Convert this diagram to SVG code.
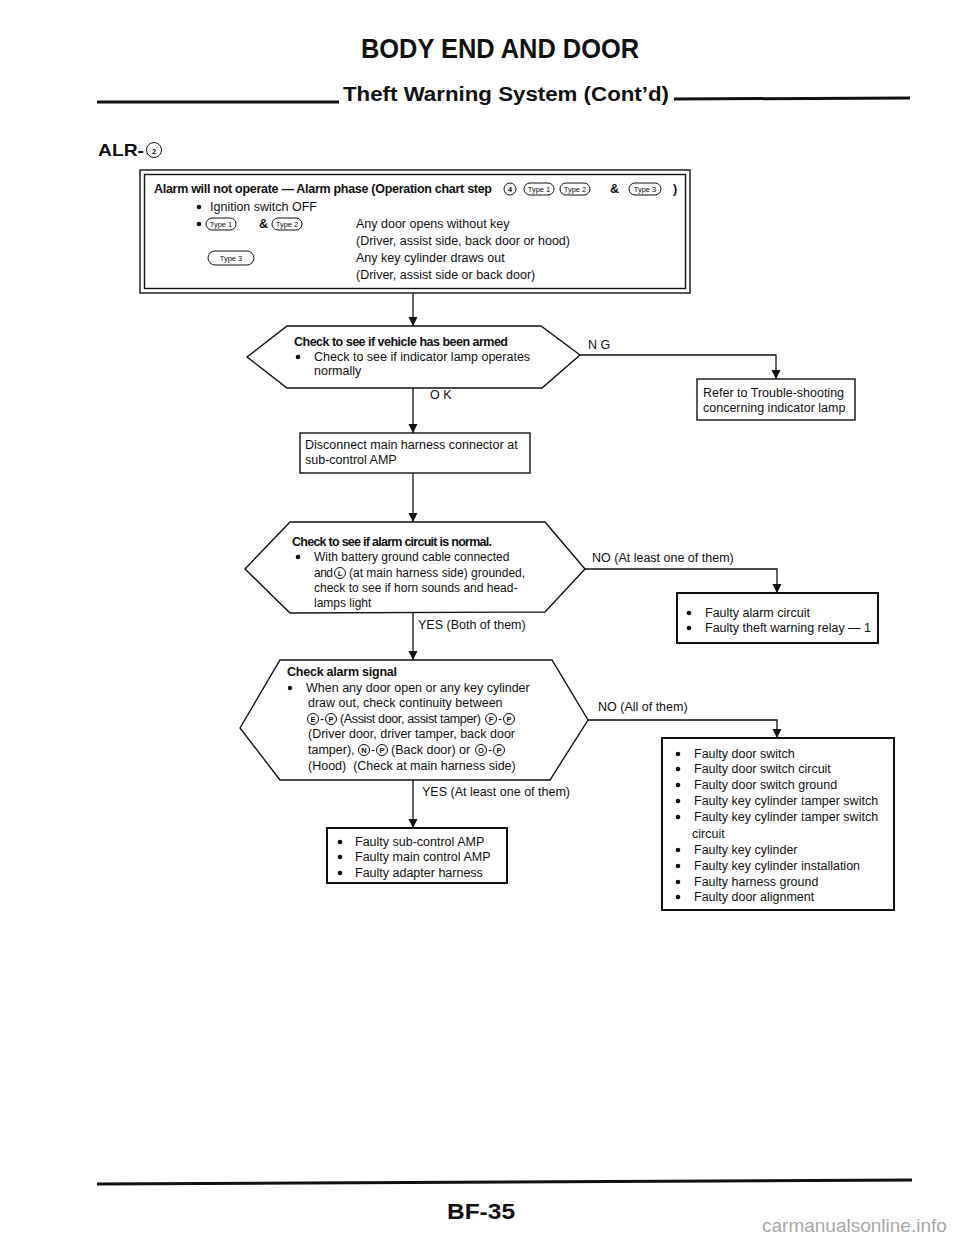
<svg xmlns="http://www.w3.org/2000/svg" width="960" height="1245" viewBox="0 0 960 1245">
<defs>
<marker id="arr" markerUnits="userSpaceOnUse" markerWidth="9" markerHeight="10" refX="9" refY="4.5" orient="auto">
<path d="M0,0 L9,4.5 L0,9 z" fill="#111"/>
</marker>
<style>
.t{font-family:"Liberation Sans",Arial,sans-serif;font-size:12.5px;fill:#111}
.s{font-size:12px}
.b{font-weight:bold}
.h{font-family:"Liberation Sans",Arial,sans-serif;font-weight:bold;fill:#111}
.box{fill:#fff;stroke:#111;stroke-width:1.4}
.thick{stroke-width:2}
.rule{stroke:#111;stroke-width:3;fill:none}
.conn path{fill:none;stroke:#111;stroke-width:1.3;marker-end:url(#arr)}
.bd rect{fill:none;stroke:#111;stroke-width:1}
.bd text{font-family:"Liberation Sans",Arial,sans-serif;font-size:7.5px;fill:#111;text-anchor:middle}
.cl circle{fill:none;stroke:#111;stroke-width:1}
.cl text{font-family:"Liberation Sans",Arial,sans-serif;font-size:7.5px;font-weight:bold;fill:#111;text-anchor:middle}
.dot{fill:#111}
</style>
</defs>
<rect width="960" height="1245" fill="#fff"/>

<g id="header">
<text class="h" x="500" y="58" font-size="28" text-anchor="middle" textLength="278" lengthAdjust="spacingAndGlyphs">BODY END AND DOOR</text>
<line class="rule" x1="97" y1="102" x2="339" y2="102"/>
<text class="h" x="343" y="101" font-size="20" textLength="326" lengthAdjust="spacingAndGlyphs">Theft Warning System (Cont’d)</text>
<line class="rule" x1="674" y1="99" x2="910" y2="98"/>
<text class="h" x="98" y="156" font-size="17" textLength="46" lengthAdjust="spacingAndGlyphs">ALR-</text>
<g class="cl"><circle cx="154" cy="150" r="7.5"/><text x="154" y="154" font-size="11" font-weight="normal">2</text></g>
</g>

<g id="start">
<rect class="box" x="140" y="170" width="550" height="123"/>
<rect class="box" x="144.5" y="174.5" width="541" height="114" fill="none"/>
<text class="t b" x="154" y="193" font-size="12" textLength="338">Alarm will not operate — Alarm phase (Operation chart step</text>
<g class="cl"><circle cx="510" cy="189" r="6"/><text x="510" y="192">4</text></g>
<g class="bd"><rect x="524" y="183" width="30" height="12" rx="6"/><text x="539" y="192">Type 1</text></g>
<g class="bd"><rect x="560" y="183" width="30" height="12" rx="6"/><text x="575" y="192">Type 2</text></g>
<text class="t b" x="610" y="193">&amp;</text>
<g class="bd"><rect x="629" y="183" width="32" height="12" rx="6"/><text x="645" y="192">Type 3</text></g>
<text class="t b" x="673" y="193">)</text>
<circle class="dot" cx="199" cy="207" r="2.3"/>
<text class="t" x="210" y="211">Ignition switch OFF</text>
<circle class="dot" cx="199" cy="224" r="2.3"/>
<g class="bd"><rect x="206" y="218" width="30" height="12" rx="6"/><text x="221" y="227">Type 1</text></g>
<text class="t b" x="259" y="228">&amp;</text>
<g class="bd"><rect x="272" y="218" width="30" height="12" rx="6"/><text x="287" y="227">Type 2</text></g>
<text class="t" x="356" y="228">Any door opens without key</text>
<text class="t" x="356" y="245">(Driver, assist side, back door or hood)</text>
<g class="bd"><rect x="208" y="251" width="46" height="14" rx="7"/><text x="231" y="261" font-size="8.5">Type 3</text></g>
<text class="t" x="356" y="262">Any key cylinder draws out</text>
<text class="t" x="356" y="279">(Driver, assist side or back door)</text>
</g>

<g id="check-armed">
<polygon class="box" points="247,357 287,326 541,326 580,355 542,388 287,388"/>
<text class="t b" x="294" y="346" textLength="214">Check to see if vehicle has been armed</text>
<circle class="dot" cx="298" cy="357" r="2.3"/>
<text class="t" x="314" y="361">Check to see if indicator lamp operates</text>
<text class="t" x="314" y="375">normally</text>
</g>

<g id="refer-lamp">
<rect class="box" x="697" y="379" width="158" height="41"/>
<text class="t" x="703" y="397">Refer to Trouble-shooting</text>
<text class="t" x="703" y="412">concerning indicator lamp</text>
</g>

<g id="disconnect">
<rect class="box" x="300" y="433" width="230" height="40"/>
<text class="t" x="305" y="449">Disconnect main harness connector at</text>
<text class="t" x="305" y="464">sub-control AMP</text>
</g>

<g id="check-circuit">
<polygon class="box" points="245,569 290,522 545,522 585,569 545,612 290,613"/>
<text class="t b" x="292" y="546" textLength="200">Check to see if alarm circuit is normal.</text>
<circle class="dot" cx="298" cy="557" r="2.3"/>
<text class="t s" x="314" y="561">With battery ground cable connected</text>
<text class="t s" x="314" y="577" textLength="19">and</text>
<g class="cl"><circle cx="340" cy="573" r="5.5"/><text x="340" y="576">L</text></g>
<text class="t s" x="349" y="577">(at main harness side) grounded,</text>
<text class="t s" x="314" y="592">check to see if horn sounds and head-</text>
<text class="t s" x="314" y="607">lamps light</text>
</g>

<g id="fault-alarm">
<rect class="box thick" x="677" y="593" width="201" height="50"/>
<circle class="dot" cx="689" cy="613" r="2.3"/>
<text class="t" x="705" y="617">Faulty alarm circuit</text>
<circle class="dot" cx="689" cy="628" r="2.3"/>
<text class="t" x="705" y="632">Faulty theft warning relay — 1</text>
</g>

<g id="check-signal">
<polygon class="box" points="240,728 280,660 552,660 588,720 550,780 280,780"/>
<text class="t b" x="287" y="676" textLength="110">Check alarm signal</text>
<circle class="dot" cx="290" cy="688" r="2.3"/>
<text class="t" x="306" y="692">When any door open or any key cylinder</text>
<text class="t" x="308" y="707">draw out, check continuity between</text>
<g class="cl"><circle cx="313" cy="719" r="5.5"/><text x="313" y="722">E</text></g>
<text class="t" x="320" y="723">-</text>
<g class="cl"><circle cx="331" cy="719" r="5.5"/><text x="331" y="722">P</text></g>
<text class="t" x="340" y="723" textLength="141">(Assist door, assist tamper)</text>
<g class="cl"><circle cx="491" cy="719" r="5.5"/><text x="491" y="722">F</text></g>
<text class="t" x="498" y="723">-</text>
<g class="cl"><circle cx="509" cy="719" r="5.5"/><text x="509" y="722">P</text></g>
<text class="t" x="308" y="738">(Driver door, driver tamper, back door</text>
<text class="t" x="308" y="754">tamper),</text>
<g class="cl"><circle cx="364" cy="750" r="5.5"/><text x="364" y="753">N</text></g>
<text class="t" x="371" y="754">-</text>
<g class="cl"><circle cx="382" cy="750" r="5.5"/><text x="382" y="753">P</text></g>
<text class="t" x="391" y="754">(Back door) or</text>
<g class="cl"><circle cx="481" cy="750" r="5.5"/><text x="481" y="753">O</text></g>
<text class="t" x="488" y="754">-</text>
<g class="cl"><circle cx="499" cy="750" r="5.5"/><text x="499" y="753">P</text></g>
<text class="t" x="308" y="770" xml:space="preserve">(Hood)  (Check at main harness side)</text>
</g>

<g id="fault-switch">
<rect class="box thick" x="662" y="738" width="232" height="172"/>
<g class="t">
<circle class="dot" cx="678" cy="754" r="2.3"/><text x="694" y="758">Faulty door switch</text>
<circle class="dot" cx="678" cy="769" r="2.3"/><text x="694" y="773">Faulty door switch circuit</text>
<circle class="dot" cx="678" cy="785" r="2.3"/><text x="694" y="789">Faulty door switch ground</text>
<circle class="dot" cx="678" cy="801" r="2.3"/><text x="694" y="805">Faulty key cylinder tamper switch</text>
<circle class="dot" cx="678" cy="817" r="2.3"/><text x="694" y="821">Faulty key cylinder tamper switch</text>
<text x="692" y="838">circuit</text>
<circle class="dot" cx="678" cy="850" r="2.3"/><text x="694" y="854">Faulty key cylinder</text>
<circle class="dot" cx="678" cy="866" r="2.3"/><text x="694" y="870">Faulty key cylinder installation</text>
<circle class="dot" cx="678" cy="882" r="2.3"/><text x="694" y="886">Faulty harness ground</text>
<circle class="dot" cx="678" cy="897" r="2.3"/><text x="694" y="901">Faulty door alignment</text>
</g>
</g>

<g id="fault-amp">
<rect class="box thick" x="327" y="828" width="180" height="55"/>
<circle class="dot" cx="340" cy="842" r="2.3"/><text class="t" x="355" y="846">Faulty sub-control AMP</text>
<circle class="dot" cx="340" cy="857" r="2.3"/><text class="t" x="355" y="861">Faulty main control AMP</text>
<circle class="dot" cx="340" cy="873" r="2.3"/><text class="t" x="355" y="877">Faulty adapter harness</text>
</g>

<g id="connectors" class="conn">
<path d="M413,293 V326"/>
<path d="M580,355 H776 V379"/>
<path d="M413,388 V433"/>
<path d="M413,473 V522"/>
<path d="M585,569 H777 V593"/>
<path d="M413,613 V660"/>
<path d="M588,720 H777 V738"/>
<path d="M413,780 V828"/>
</g>

<g id="labels">
<text class="t" x="588" y="349">N G</text>
<text class="t" x="430" y="399">O K</text>
<text class="t" x="592" y="562">NO (At least one of them)</text>
<text class="t" x="418" y="629">YES (Both of them)</text>
<text class="t" x="598" y="711">NO (All of them)</text>
<text class="t" x="422" y="796">YES (At least one of them)</text>
</g>

<g id="footer">
<line class="rule" x1="97" y1="1184" x2="912" y2="1180"/>
<text class="h" x="481" y="1219" font-size="22" text-anchor="middle" textLength="68" lengthAdjust="spacingAndGlyphs">BF-35</text>
<text x="762" y="1232" font-family="Liberation Sans, Arial, sans-serif" font-size="19" fill="#a8a8a8">carmanualsonline.info</text>
</g>
</svg>
